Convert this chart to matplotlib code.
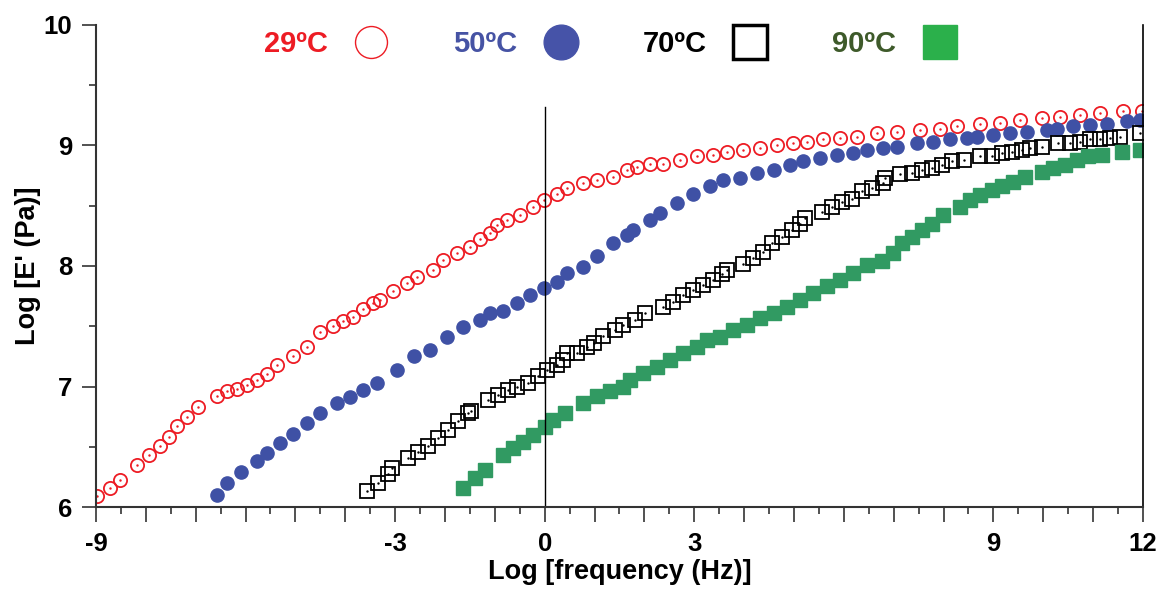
import numpy as np
import matplotlib
matplotlib.use('Agg')
import matplotlib.pyplot as plt
from matplotlib.lines import Line2D
from matplotlib.ticker import MultipleLocator, FuncFormatter

plt.rcParams['font.family'] = ['Liberation Sans', 'DejaVu Sans']
plt.rcParams['font.weight'] = 'bold'

# Master curves, log storage modulus vs log reduced frequency
x29 = [-8.98, -8.71, -8.51, -8.18, -7.94, -7.71, -7.54, -7.38, -7.18, -6.95,
       -6.58, -6.37, -6.17, -5.97, -5.77, -5.57, -5.37, -5.04, -4.77, -4.5,
       -4.24, -4.04, -3.84, -3.64, -3.44, -3.3, -3.04, -2.76, -2.56, -2.23,
       -2.03, -1.76, -1.49, -1.29, -1.09, -0.96, -0.76, -0.49, -0.23, -0.02,
       0.24, 0.44, 0.77, 1.05, 1.37, 1.65, 1.85, 2.12, 2.38, 2.72,
       3.05, 3.38, 3.65, 3.98, 4.32, 4.66, 4.99, 5.26, 5.59, 5.93,
       6.26, 6.66, 7.06, 7.53, 7.93, 8.27, 8.73, 9.13, 9.54, 9.97,
       10.34, 10.74, 11.14, 11.6, 11.98]
y29 = [6.09, 6.16, 6.22, 6.35, 6.43, 6.51, 6.58, 6.67, 6.75, 6.83,
       6.92, 6.96, 6.98, 7.01, 7.05, 7.1, 7.18, 7.25, 7.33, 7.45,
       7.5, 7.54, 7.58, 7.64, 7.69, 7.72, 7.79, 7.86, 7.91, 7.97,
       8.05, 8.11, 8.16, 8.22, 8.27, 8.34, 8.38, 8.42, 8.49, 8.55,
       8.6, 8.65, 8.69, 8.71, 8.74, 8.8, 8.82, 8.85, 8.85, 8.88,
       8.91, 8.92, 8.95, 8.96, 8.98, 9.0, 9.02, 9.03, 9.05, 9.06,
       9.07, 9.1, 9.11, 9.13, 9.14, 9.16, 9.18, 9.19, 9.21, 9.23,
       9.24, 9.25, 9.27, 9.29, 9.29]

x50 = [-6.58, -6.37, -6.1, -5.77, -5.57, -5.3, -5.04, -4.77, -4.5, -4.17,
       -3.9, -3.64, -3.37, -2.96, -2.63, -2.3, -1.96, -1.63, -1.29, -1.09,
       -0.83, -0.56, -0.29, -0.02, 0.24, 0.44, 0.77, 1.05, 1.37, 1.65,
       1.78, 2.12, 2.32, 2.65, 2.98, 3.32, 3.58, 3.92, 4.26, 4.59,
       4.92, 5.19, 5.52, 5.86, 6.19, 6.46, 6.79, 7.06, 7.46, 7.79,
       8.13, 8.47, 8.67, 9.0, 9.33, 9.67, 10.07, 10.27, 10.6, 10.94,
       11.28, 11.68, 11.94]
y50 = [6.1, 6.2, 6.29, 6.38, 6.45, 6.53, 6.61, 6.7, 6.78, 6.86,
       6.91, 6.97, 7.03, 7.14, 7.25, 7.3, 7.41, 7.49, 7.55, 7.61,
       7.63, 7.69, 7.76, 7.82, 7.87, 7.94, 7.99, 8.08, 8.19, 8.26,
       8.3, 8.38, 8.44, 8.52, 8.6, 8.66, 8.71, 8.73, 8.77, 8.8,
       8.84, 8.87, 8.9, 8.92, 8.94, 8.96, 8.98, 8.99, 9.02, 9.03,
       9.05, 9.06, 9.07, 9.09, 9.1, 9.11, 9.13, 9.14, 9.16, 9.17,
       9.18, 9.2, 9.21]

x70 = [-3.57, -3.34, -3.14, -3.07, -2.74, -2.54, -2.34, -2.14, -1.94, -1.74,
       -1.54, -1.47, -1.13, -0.93, -0.73, -0.56, -0.33, -0.13, 0.04, 0.24,
       0.37, 0.44, 0.65, 0.85, 0.98, 1.17, 1.41, 1.58, 1.81, 2.01,
       2.38, 2.58, 2.78, 2.98, 3.18, 3.38, 3.55, 3.65, 3.98, 4.18,
       4.38, 4.56, 4.76, 4.96, 5.12, 5.22, 5.56, 5.76, 5.96, 6.16,
       6.36, 6.56, 6.79, 6.83, 7.13, 7.36, 7.56, 7.76, 7.96, 8.17,
       8.4, 8.73, 8.97, 9.17, 9.37, 9.57, 9.74, 9.97, 10.3, 10.54,
       10.74, 10.94, 11.14, 11.34, 11.54, 11.94]
y70 = [6.13, 6.2, 6.27, 6.32, 6.41, 6.46, 6.51, 6.57, 6.64, 6.71,
       6.78, 6.8, 6.89, 6.93, 6.97, 7.0, 7.03, 7.09, 7.14, 7.18,
       7.22, 7.28, 7.28, 7.33, 7.36, 7.42, 7.47, 7.51, 7.55, 7.61,
       7.66, 7.7, 7.76, 7.8, 7.84, 7.88, 7.93, 7.97, 8.02, 8.07,
       8.12, 8.19, 8.24, 8.3, 8.35, 8.4, 8.45, 8.49, 8.53, 8.56,
       8.62, 8.65, 8.69, 8.73, 8.76, 8.77, 8.8, 8.81, 8.84, 8.87,
       8.88, 8.91, 8.91, 8.94, 8.95, 8.96, 8.98, 8.99, 9.02, 9.02,
       9.03, 9.05, 9.05, 9.06, 9.07, 9.1]

x90 = [-1.63, -1.39, -1.19, -0.83, -0.63, -0.43, -0.23, 0.01, 0.17, 0.41,
       0.77, 1.05, 1.31, 1.58, 1.71, 1.98, 2.25, 2.52, 2.78, 3.05,
       3.25, 3.52, 3.78, 4.05, 4.32, 4.59, 4.86, 5.12, 5.39, 5.66,
       5.93, 6.19, 6.46, 6.76, 6.99, 7.16, 7.36, 7.56, 7.76, 7.99,
       8.33, 8.53, 8.73, 8.97, 9.17, 9.4, 9.64, 9.97, 10.2, 10.44,
       10.67, 10.9, 11.17, 11.58, 11.94]
y90 = [6.16, 6.24, 6.31, 6.43, 6.49, 6.54, 6.6, 6.66, 6.72, 6.78,
       6.86, 6.92, 6.96, 7.0, 7.05, 7.11, 7.16, 7.22, 7.28, 7.33,
       7.39, 7.41, 7.47, 7.51, 7.57, 7.61, 7.66, 7.72, 7.78, 7.83,
       7.88, 7.94, 8.01, 8.04, 8.11, 8.19, 8.24, 8.3, 8.35, 8.42,
       8.49, 8.55, 8.59, 8.63, 8.66, 8.7, 8.74, 8.78, 8.81, 8.84,
       8.88, 8.91, 8.92, 8.95, 8.96]

temps = ['29ºC', '50ºC', '70ºC', '90ºC']
red = '#ED1C24'
blue = '#3F51A5'
green = '#319A62'

fig = plt.figure(figsize=(11.63, 5.89), dpi=100)
ax = fig.add_axes([0.0825, 0.1392, 0.9003, 0.8184])

ax.plot(x29, y29, 'o', ms=9.5, mfc='none', mec=red, mew=1.3)
ax.plot(x29, y29, '.', ms=1.5, color=red)
ax.plot(x50, y50, 'o', ms=9.5, color=blue, mec=blue)
ax.plot(x70, y70, 's', ms=10, mfc='none', mec='black', mew=1.3)
ax.plot(x70, y70, '.', ms=1.5, color='black')
ax.plot(x90, y90, 's', ms=10.5, color=green, mec=green)

ax.axvline(0, ymax=0.83, color='black', lw=1)

ax.set_xlim(-9, 12)
ax.set_ylim(6, 10)

for s in ['left', 'bottom']:
    ax.spines[s].set_linewidth(1.5)
    ax.spines[s].set_color('#333333')
ax.spines['right'].set_linewidth(1.2)
ax.spines['top'].set_visible(False)

shown = [-9, -3, 0, 3, 9, 12]
ax.xaxis.set_major_locator(MultipleLocator(1))
ax.xaxis.set_minor_locator(MultipleLocator(0.5))
ax.xaxis.set_major_formatter(FuncFormatter(
    lambda v, p: '%d' % round(v) if round(v) in shown else ''))
ax.yaxis.set_major_locator(MultipleLocator(1))
ax.yaxis.set_minor_locator(MultipleLocator(0.5))
ax.tick_params(which='major', length=11, width=1.2, color='#333333',
               labelsize=18.5, pad=7)
ax.tick_params(which='minor', length=5, width=1.2, color='#333333')
ax.tick_params(axis='y', which='major', length=10)

ax.set_xlabel('Log [frequency (Hz)]', fontsize=19.5, fontweight='bold', labelpad=2)
ax.set_ylabel("Log [E' (Pa)]", fontsize=19.5, fontweight='bold', labelpad=2)

handles = [
    Line2D([], [], ls='none', marker='o', ms=23, mfc='none', mec=red, mew=1.0),
    Line2D([], [], ls='none', marker='o', ms=25, color='#4653A8'),
    Line2D([], [], ls='none', marker='s', ms=25, mfc='none', mec='black', mew=2.5),
    Line2D([], [], ls='none', marker='s', ms=25, color='#2BB04B'),
]
leg = ax.legend(handles, temps, ncol=4, markerfirst=False, frameon=False,
                loc='center', bbox_to_anchor=(0.497, 0.96), fontsize=21,
                handletextpad=0.5, columnspacing=1.8,
                labelcolor=[red, '#4653A4', 'black', '#3E5A2A'])
for t in leg.get_texts():
    t.set_fontweight('bold')

fig.savefig('out.png', dpi=100)
